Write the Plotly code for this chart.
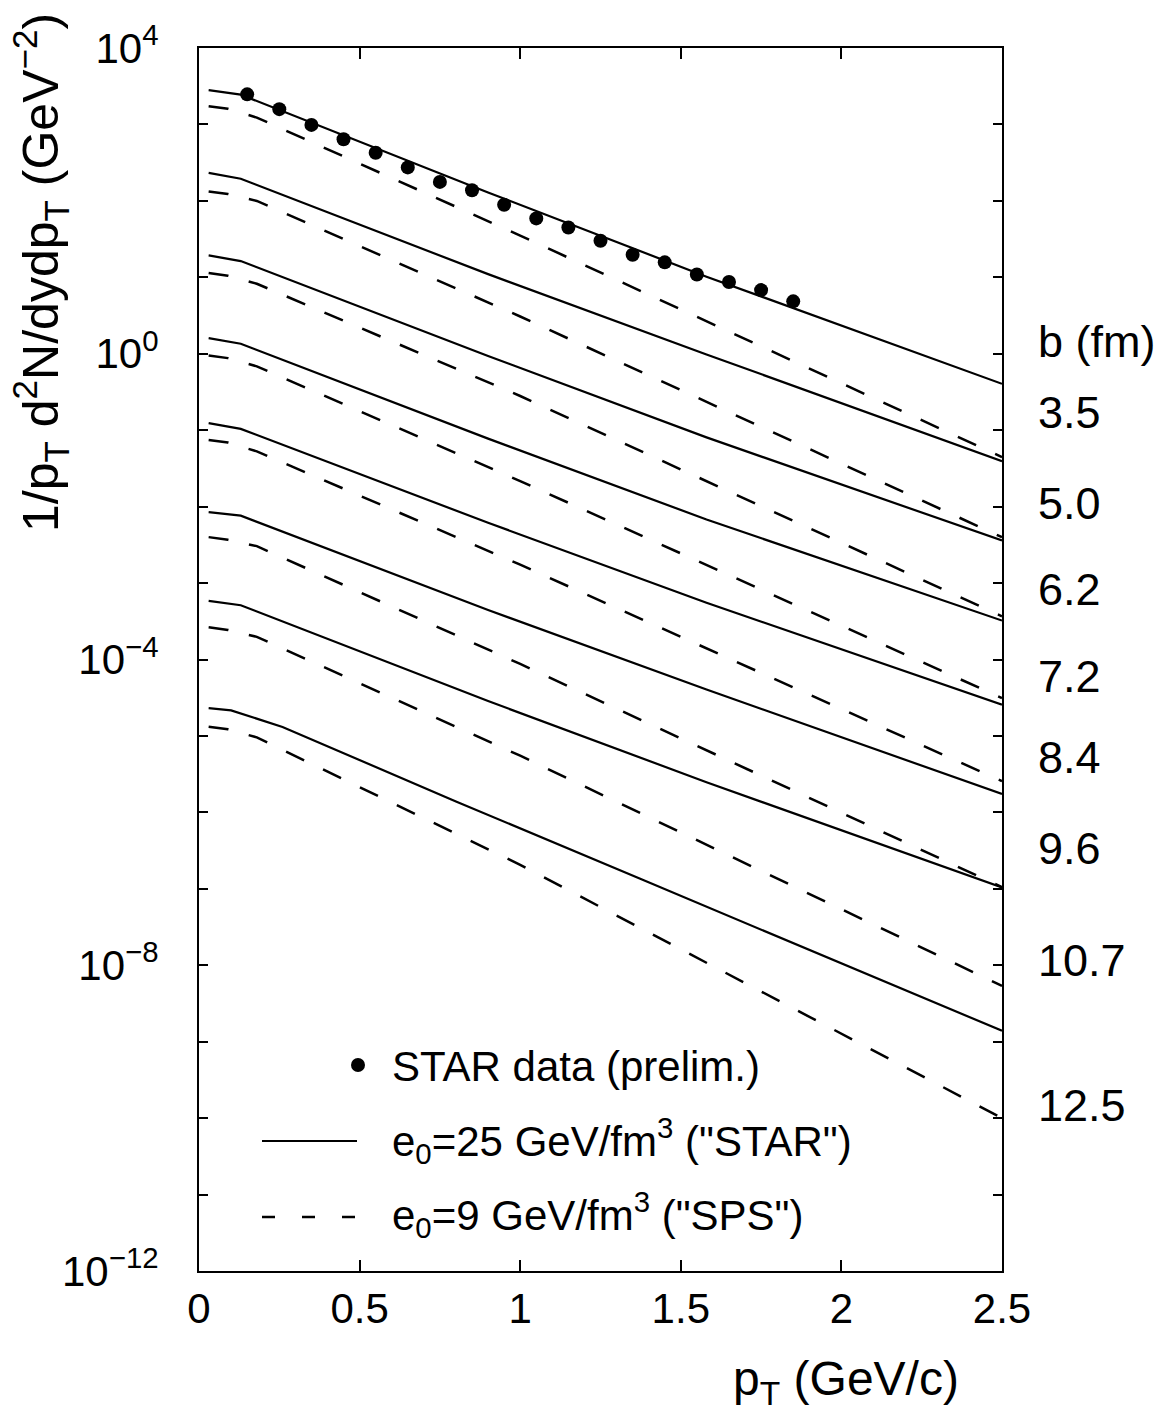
import plotly.graph_objects as go

# ---------------- data ----------------
# STAR preliminary data points
star_pt = [0.15, 0.25, 0.35, 0.45, 0.55, 0.65, 0.75, 0.85, 0.95,
           1.05, 1.15, 1.25, 1.35, 1.45, 1.55, 1.65, 1.75, 1.85]
star_val = [2477, 1585, 986, 640, 427, 274, 177, 138, 89,
            59, 44.8, 30.1, 19.7, 15.7, 10.9, 8.7, 6.8, 4.85]

# e0 = 25 GeV/fm^3 ("STAR") curves, one per impact parameter
pt_solid = [0.03, 0.13, 0.90, 1.58, 2.50]
solid_b35 = [2.81e3, 2.45e3, 1.29e2, 1.02e1, 4.04e-1]
solid_b50 = [2.32e2, 1.95e2, 1.10e1, 9.8e-1, 3.93e-2]
solid_b62 = [1.94e1, 1.63e1, 9.35e-1, 8.05e-2, 3.60e-3]
solid_b72 = [1.60e0, 1.35e0, 7.76e-2, 6.79e-3, 3.23e-4]
solid_b84 = [1.24e-1, 1.04e-1, 6.15e-3, 5.52e-4, 2.57e-5]
solid_b96 = [8.47e-3, 7.62e-3, 4.44e-4, 4.05e-5, 1.74e-6]
solid_b107 = [5.85e-4, 5.13e-4, 2.86e-5, 2.48e-6, 1.04e-7]
pt_solid_b125 = [0.03, 0.10, 0.26, 0.80, 1.37, 2.50]
solid_b125 = [2.31e-5, 2.16e-5, 1.31e-5, 1.39e-6, 1.37e-7, 1.39e-9]

# e0 = 9 GeV/fm^3 ("SPS") curves
pt_dashed = [0.03, 0.09, 0.18, 1.00, 2.50]
dashed_b35 = [1.73e3, 1.60e3, 1.23e3, 3.52e1, 4.44e-2]
dashed_b50 = [1.33e2, 1.23e2, 9.98e1, 3.07e0, 3.98e-3]
dashed_b62 = [1.14e1, 1.05e1, 8.24e0, 2.80e-1, 3.68e-4]
dashed_b72 = [9.51e-1, 8.77e-1, 6.85e-1, 2.16e-2, 3.13e-5]
dashed_b84 = [7.46e-2, 6.89e-2, 5.28e-2, 1.74e-3, 2.56e-6]
dashed_b96 = [3.99e-3, 3.68e-3, 3.04e-3, 8.75e-5, 1.05e-7]
dashed_b107 = [2.65e-4, 2.44e-4, 1.98e-4, 5.51e-6, 5.36e-9]
dashed_b125 = [1.32e-5, 1.22e-5, 9.57e-6, 2.06e-7, 1.00e-10]

b_labels = ["3.5", "5.0", "6.2", "7.2", "8.4", "9.6", "10.7", "12.5"]

x_tickvals = [0, 0.5, 1, 1.5, 2, 2.5]
x_ticktext = ["0", "0.5", "1", "1.5", "2", "2.5"]
y_major_exp = [4, 0, -4, -8, -12]
y_major_text = ["10<sup>4</sup>", "10<sup>0</sup>", "10<sup>\u22124</sup>",
                "10<sup>\u22128</sup>", "10<sup>\u221212</sup>"]
y_minor_exp = [e for e in range(-12, 5) if e not in y_major_exp]

# ---------------- layout geometry (pixels) ----------------
W, H = 1172, 1412
L, R, T, B = 199, 1002, 48, 1271


def px(x):
    return (x - L) / (R - L)


def py(y):
    return (B - y) / (B - T)


FONT = "Liberation Sans, Arial, Helvetica, sans-serif"

fig = go.Figure()

solid_sets = [(pt_solid, solid_b35), (pt_solid, solid_b50), (pt_solid, solid_b62),
              (pt_solid, solid_b72), (pt_solid, solid_b84), (pt_solid, solid_b96),
              (pt_solid, solid_b107), (pt_solid_b125, solid_b125)]
dashed_sets = [dashed_b35, dashed_b50, dashed_b62, dashed_b72,
               dashed_b84, dashed_b96, dashed_b107, dashed_b125]

for (xs, ys), lab in zip(solid_sets, b_labels):
    fig.add_trace(go.Scatter(x=xs, y=ys, mode="lines", showlegend=False,
                             name="e0=25, b=" + lab,
                             line=dict(color="black", width=2.2)))
for ys, lab in zip(dashed_sets, b_labels):
    fig.add_trace(go.Scatter(x=pt_dashed, y=ys, mode="lines", showlegend=False,
                             name="e0=9, b=" + lab,
                             line=dict(color="black", width=2.5, dash="20px,21px")))

fig.add_trace(go.Scatter(x=star_pt, y=star_val, mode="markers", showlegend=False,
                         name="STAR data (prelim.)",
                         marker=dict(color="black", size=14, line=dict(width=0))))

fig.update_xaxes(range=[0, 2.5], tickvals=x_tickvals, ticktext=x_ticktext,
                 ticks="inside", ticklen=11, tickwidth=2, tickcolor="black",
                 showline=True, linecolor="black", linewidth=2, mirror="ticks",
                 showgrid=False, zeroline=False,
                 tickfont=dict(family=FONT, size=42, color="black"),
                 ticklabelstandoff=0)
fig.update_yaxes(type="log", range=[-12, 4],
                 tickvals=[10.0 ** e for e in y_major_exp],
                 ticktext=y_major_text,
                 ticks="inside", ticklen=9, tickwidth=2, tickcolor="black",
                 minor=dict(tickvals=[10.0 ** e for e in y_minor_exp],
                            ticks="inside", ticklen=9, tickwidth=2,
                            tickcolor="black", showgrid=False),
                 showline=True, linecolor="black", linewidth=2, mirror="ticks",
                 showgrid=False, zeroline=False,
                 tickfont=dict(family=FONT, size=42, color="black"),
                 ticklabelstandoff=30)

ann = []
# axis titles
ann.append(dict(text="1/p<sub>T</sub> d<sup>2</sup>N/dydp<sub>T</sub> (GeV<sup>\u22122</sup>)",
                x=px(40), y=py(273), xref="paper", yref="paper", textangle=-90,
                xanchor="center", yanchor="middle", showarrow=False,
                font=dict(family=FONT, size=50, color="black")))
ann.append(dict(text="p<sub>T</sub> (GeV/c)", x=px(961), y=py(1382),
                xref="paper", yref="paper", xanchor="right", yanchor="middle",
                showarrow=False, font=dict(family=FONT, size=48, color="black")))
# impact parameter labels on the right
ann.append(dict(text="b (fm)", x=px(1036), y=py(342), xref="paper", yref="paper",
                xanchor="left", yanchor="middle", showarrow=False,
                font=dict(family=FONT, size=45, color="black")))
b_label_py = [412, 504, 589, 676, 757, 848, 960, 1105]
for lab, yy in zip(b_labels, b_label_py):
    ann.append(dict(text=lab, x=px(1036), y=py(yy), xref="paper", yref="paper",
                    xanchor="left", yanchor="middle", showarrow=False,
                    font=dict(family=FONT, size=45, color="black")))
# legend texts
leg_font = dict(family=FONT, size=42, color="black")
ann.append(dict(text="STAR data (prelim.)", x=px(390), y=py(1066), xref="paper",
                yref="paper", xanchor="left", yanchor="middle", showarrow=False,
                font=leg_font))
ann.append(dict(text="e<sub>0</sub>=25 GeV/fm<sup>3</sup> (\"STAR\")", x=px(390),
                y=py(1140), xref="paper", yref="paper", xanchor="left",
                yanchor="middle", showarrow=False, font=leg_font))
ann.append(dict(text="e<sub>0</sub>=9 GeV/fm<sup>3</sup> (\"SPS\")", x=px(390),
                y=py(1214), xref="paper", yref="paper", xanchor="left",
                yanchor="middle", showarrow=False, font=leg_font))

shapes = [
    dict(type="circle", xref="paper", yref="paper", xsizemode="pixel",
         ysizemode="pixel", xanchor=px(358), yanchor=py(1065),
         x0=-7, x1=7, y0=-7, y1=7, fillcolor="black", line=dict(width=0)),
    dict(type="line", xref="paper", yref="paper", x0=px(262), x1=px(357),
         y0=py(1141), y1=py(1141), line=dict(color="black", width=2.2)),
    dict(type="line", xref="paper", yref="paper", x0=px(262), x1=px(357),
         y0=py(1217), y1=py(1217), line=dict(color="black", width=2.5,
                                             dash="13px,27px")),
]

fig.update_layout(width=W, height=H, autosize=False,
                  margin=dict(l=L, r=W - R, t=T, b=H - B, pad=0),
                  paper_bgcolor="white", plot_bgcolor="white",
                  showlegend=False, annotations=ann, shapes=shapes,
                  font=dict(family=FONT, color="black"))

fig.write_html("out.html")
